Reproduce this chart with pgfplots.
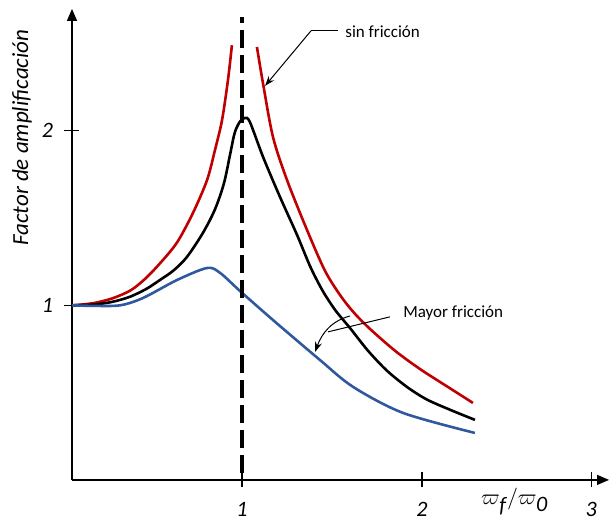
\documentclass[border=0pt]{standalone}
\usepackage{fontspec}
\setmainfont{Carlito}
\usepackage{pgfplots}
\pgfplotsset{compat=1.18}
\usetikzlibrary{arrows.meta}
\definecolor{redc}{RGB}{192,0,0}
\definecolor{bluec}{RGB}{47,88,158}
\begin{document}
\begin{tikzpicture}
\begin{axis}[
    scale only axis,
    width=268.5pt, height=235.5pt,
    xmin=0.0556, xmax=3.039,
    ymin=0, ymax=2.698,
    axis x line=bottom, axis y line=left,
    axis line style={line width=0.7pt, -{Triangle[length=6pt,width=5pt]}},
    xtick={1,2,2.94}, xticklabels={1,2,3},
    ytick={1,2}, yticklabels={1,2},
    tick align=center, major tick length=7.5pt,
    tick style={black, line width=0.6pt},
    /pgf/number format/assume math mode=true,
    ticklabel style={font=\fontsize{11}{13}\selectfont\itshape},
    xticklabel style={anchor=center, yshift=-11pt},
    yticklabel style={anchor=center, xshift=-8.5pt},
    clip=false,
]
\addplot[redc, line width=1.3pt, smooth] coordinates {
    (0.056,1.0) (0.172,1.012) (0.28,1.04) (0.38,1.085) (0.46,1.15) (0.544,1.24)
    (0.639,1.36) (0.728,1.53) (0.806,1.718) (0.85,1.89) (0.889,2.06) (0.922,2.29) (0.944,2.49)
};
\addplot[redc, line width=1.3pt, smooth] coordinates {
    (1.083,2.48) (1.117,2.27) (1.172,1.965) (1.25,1.718) (1.361,1.432)
    (1.46,1.2) (1.544,1.06) (1.62,0.96) (1.711,0.865) (1.85,0.74) (1.989,0.635) (2.14,0.535) (2.283,0.441)
};
\addplot[black, line width=1.3pt, smooth] coordinates {
    (0.056,1.0) (0.172,1.004) (0.28,1.02) (0.38,1.05) (0.47,1.095) (0.544,1.145) (0.62,1.2) (0.694,1.277)
    (0.783,1.415) (0.85,1.55) (0.9,1.7) (0.935,1.87) (0.96,1.99)
    (0.99,2.055) (1.017,2.073) (1.044,2.05) (1.117,1.85) (1.211,1.621)
    (1.306,1.403) (1.38,1.22) (1.45,1.08) (1.52,0.97) (1.6,0.87) (1.7,0.74) (1.806,0.625)
    (1.92,0.53) (2.028,0.46) (2.16,0.4) (2.294,0.344)
};
\addplot[bluec, line width=1.3pt, smooth] coordinates {
    (0.056,1.0) (0.172,0.997) (0.322,1.0) (0.45,1.042) (0.639,1.145)
    (0.806,1.214) (0.878,1.186) (0.989,1.082) (1.172,0.916) (1.433,0.687)
    (1.617,0.533) (1.894,0.384) (2.294,0.269)
};
\addplot[black, line width=1.6pt, dash pattern=on 9pt off 3.5pt] coordinates {(1,0.04) (1,2.65)};
% annotations
\draw[line width=0.5pt] (axis cs:1.533,2.572) -- (axis cs:1.383,2.572);
\draw[line width=0.5pt, -{Stealth[length=5pt,width=3.5pt]}] (axis cs:1.383,2.572) -- (axis cs:1.128,2.257);
\node[anchor=west, font=\fontsize{8.5}{10}\selectfont, inner sep=0pt] at (axis cs:1.572,2.566) {sin fricción};
\draw[line width=0.5pt] (axis cs:1.822,0.934) -- (axis cs:1.478,0.848);
\draw[line width=0.5pt, -{Stealth[length=5pt,width=3.5pt]}] (axis cs:1.6,0.939) to[out=195,in=70] (axis cs:1.406,0.733);
\node[anchor=west, font=\fontsize{8.5}{10}\selectfont, inner sep=0pt] at (axis cs:1.894,0.956) {Mayor fricción};
\node[rotate=90, font=\fontsize{11.5}{13}\selectfont\itshape] at (axis cs:-0.222,1.96) {Factor de amplificación};
\node[font=\fontsize{11}{13}\selectfont] at (axis cs:2.515,-0.125) {$\varpi_{\textit{f}}/\varpi_{\textit{0}}$};
\coordinate (bl) at (axis cs:-0.3444,-0.2348);
\coordinate (tr) at (axis cs:3.0444,2.749);
\end{axis}
\pgfresetboundingbox
\path (bl) rectangle (tr);
\end{tikzpicture}
\end{document}
